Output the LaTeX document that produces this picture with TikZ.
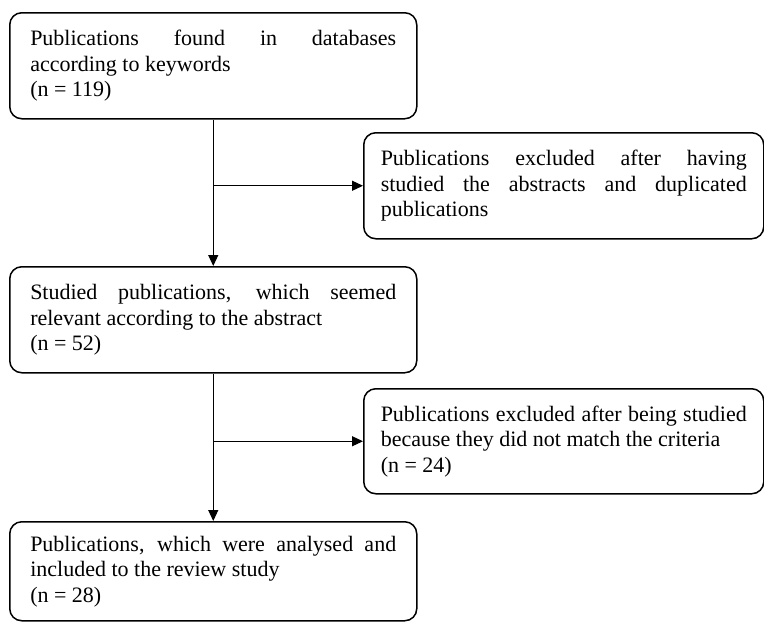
\documentclass[tikz,border=0pt]{standalone}
\usepackage{fontspec}
\setmainfont{Liberation Serif}
\usetikzlibrary{positioning,arrows.meta}
\tikzset{
  stagebox/.style={draw, rounded corners=6pt, line width=0.75pt, anchor=north west, align=justify, text width=183pt, inner xsep=10.25pt, minimum height=53pt, font=\fontsize{11}{12.75}\selectfont},
  exclbox/.style={stagebox, inner xsep=8.5pt},
  arrow/.style={-{Triangle[length=5.5pt,width=5pt]}, line width=0.6pt}
}

\begin{document}
\begin{tikzpicture}[x=0.5pt, y=-0.5pt]
  \useasboundingbox (0,0) rectangle (764,621);

  \node[stagebox] (found) at (9,12) {Publications found in databases\linebreak according to keywords\\ (n = 119)};
  \node[exclbox] (excl1) at (363,132) {Publications excluded after having\linebreak studied the abstracts and duplicated\linebreak publications};
  \node[stagebox] (studied) at (9,266) {Studied publications, which seemed\linebreak relevant according to the abstract\\ (n = 52)};
  \node[exclbox, minimum height=52.5pt] (excl2) at (363,388) {Publications excluded after being studied\linebreak because they did not match the criteria\\ (n = 24)};
  \node[stagebox, minimum height=49.5pt] (included) at (9,521) {Publications, which were analysed and\linebreak included to the review study\\ (n = 28)};

  \coordinate (split1) at (found.south |- excl1.west);
  \coordinate (split2) at (studied.south |- excl2.west);

  \draw[arrow] (found) -- (studied);
  \draw[arrow] (studied) -- (included);
  \draw[arrow] (split1) -- (excl1.west);
  \draw[arrow] (split2) -- (excl2.west);
\end{tikzpicture}
\end{document}
